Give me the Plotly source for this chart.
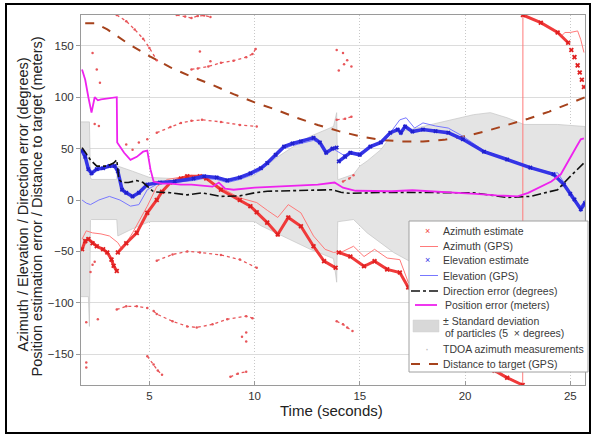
import plotly.graph_objects as go

# ---------------- data ----------------
# Distance to target (GPS), meters
dist_t = [1.95, 2.4, 3.0, 4.0, 5.0, 6.0, 7.0, 8.0, 9.0, 10.0, 11.0, 12.0, 13.0, 14.0, 15.0, 16.0, 17.0, 18.0, 19.0, 20.0, 21.0, 22.0, 23.0, 24.0, 25.0, 25.7]
dist_v = [172, 172, 166, 152, 140, 129, 120, 112, 103, 95, 88, 80, 73, 67, 62, 58.5, 57, 57, 58.5, 62, 67, 73, 79, 86, 94, 100]

# Position error (meters)
pos_t = [1.8, 1.95, 2.1, 2.25, 2.4, 2.55, 2.7, 3.0, 3.45, 3.47, 3.8, 4.1, 4.4, 4.7, 4.9, 5.05, 5.2, 5.6, 6.0, 6.5, 7.0, 7.5, 8.0, 8.3, 8.6, 9.0, 9.5, 10.0, 11.0, 12.0, 13.0, 13.8, 14.2, 14.8, 15.5, 16.5, 17.5, 18.5, 19.5, 20.5, 21.5, 22.5, 23.0, 23.6, 24.1, 24.55, 25.0, 25.3, 25.5, 25.65]
pos_v = [127, 117, 100, 85, 100, 97, 98, 99, 100, 56, 46, 39, 42, 47, 48, 30, 18, 16, 16, 15, 15, 14, 13, 17, 11, 10, 11, 12, 13, 14, 15, 17, 12, 9, 9, 8.5, 9.5, 8.5, 7.5, 6, 4.5, 3.5, 7, 13, 18, 25, 42, 52, 59, 60]

# Direction error (degrees)
dir_t = [1.8, 2.0, 2.2, 2.5, 3.0, 3.3, 3.45, 3.55, 3.7, 4.0, 4.4, 4.7, 5.2, 6.0, 6.8, 7.5, 8.0, 8.4, 9.3, 10.0, 10.6, 12.2, 13.7, 14.1, 14.5, 16.45, 18.0, 20.4, 22.0, 23.1, 24.4, 25.0, 25.65]
dir_v = [51, 45, 39, 33, 33, 36, 39, 20, 17, 17, 19, 17, 8, 7, 5, 7, 5, 3.5, 4, 7, 8.5, 9.5, 10, 7.5, 6.5, 7.5, 7.5, 7, 2.5, 3.5, 10, 23, 36]

# Elevation estimate (degrees)
elev_t = [1.8, 1.95, 2.1, 2.25, 2.5, 2.8, 3.1, 3.35, 3.5, 3.7, 3.9, 4.2, 4.5, 4.9, 5.5, 6.2, 7.1, 7.6, 8.2, 8.7, 9.3, 9.8, 10.3, 10.6, 11.0, 11.4, 11.8, 12.2, 12.8, 13.1, 13.4, 13.7, 13.9, None,
          14.0, 14.3, 14.55, 15.0, 15.5, 16.0, 16.45, 16.8, 16.95, 17.15, 17.5, 18.0, 18.6, 19.2, 19.9, 20.9, 22.0, 23.1, 24.2, 24.7, 25.0, 25.2, 25.5, 25.7]
elev_v = [48, 42, 30, 26, 30, 31, 33, 33, 28, 10, 7, 3.5, 7, 15, 17, 18, 21, 23, 22, 19, 22, 26, 31, 36, 44, 52, 55, 57, 60.5, 56, 46, 50, 51, None,
          37.5, 42, 46, 44, 52, 56, 65.5, 68.5, 65.5, 71.5, 66.6, 68.5, 67, 65.5, 59, 47, 39.4, 31.5, 25, 15, 6, 0.5, -9, -3]

# Elevation (GPS)
elev_gps_t = [1.8, 2.0, 2.2, 2.6, 3.1, 3.6, 4.1, 4.5, 4.9, 5.5, 6.2, 7.1, 7.6, 8.2, 8.7, 9.3, 9.8, 10.3, 10.6, 11.0, 11.4, 11.8, 12.2, 12.8, 13.1, 13.4, 13.8, 14.2, 14.6, 15.0, 15.8, 16.45, 16.9, 17.2, 17.6, 18.0, 18.6, 19.2, 19.9, 20.9, 22.0, 23.1, 24.2, 24.4, 24.7, 25.0, 25.3, 25.5, 25.7]
elev_gps_v = [0, -3, -4.5, 0, 3.5, 0, -6, -4.5, 10, 17, 17, 19, 21, 20, 17, 20, 24, 29, 34, 42, 50, 53, 55, 58, 55, 47, 49, 44, 45, 46, 54, 65.5, 78, 80, 70, 75, 72, 70, 62, 48, 40, 32, 26, 26.5, 17, 3.5, -4, -6, 0]

# Azimuth estimate (degrees, wrapped to +/-180); the final points are isolated samples
az_t = [1.8, 1.95, 2.1, 2.3, 2.5, 2.8, 3.0, 3.2, 3.3, 3.45, None,
        3.5, 3.9, 4.4, 4.9, 5.35, 5.6, 6.0, 6.5, 6.8, 7.4, 7.7, 8.4, 9.3, 9.8, 10.1, 10.6, 11.1, 11.6, 12.2, 12.8, 13.3, 13.85, None,
        14.0, 14.55, 15.2, 15.7, 16.3, 16.9, 17.3, 18.0, 19.0, 20.0, 21.0, 21.4, 22.0, 22.74, None,
        22.75, 23.6, 24.4, 24.9, None, 25.05, None, 25.2, None, 25.35, None, 25.45, None, 25.55, None, 25.65, None]
az_v = [-48, -40, -38, -42, -45, -48, -51, -58, -64, -69, None,
        -51, -42, -32, -12.5, 0, 8, 17, 21, 23, 23, 21, 10, 0, -6, -12, -22, -33.5, -17, -25.5, -45, -59.5, -66, None,
        -51, -55, -64.5, -59.5, -67.5, -70.5, -85, -99, -118, -138, -158, -166, -173, -180, None,
        180, 172.5, 163, 153, None, 146, None, 139, None, 131, None, 124, None, 117, None, 110, None]

# Azimuth (GPS)
az_gps_t = [1.8, 2.0, 2.3, 2.7, 3.1, 3.5, 3.7, 4.2, 4.9, 5.35, 5.85, 6.5, 7.0, 7.5, 8.4, 9.3, 10.1, 10.6, 11.1, 11.6, 12.2, 12.8, 13.35, 13.75, 14.2, 14.7, 15.2, 15.7, 16.3, 16.9, 17.3, 18.0, 19.0, 20.0, 21.0, 21.4, 22.0, 22.74, 22.75, 23.6, 24.4, 24.55, 24.75, 25.0, 25.35, 25.5, 25.65]
az_gps_v = [-38, -30, -32, -33, -35, -41.5, -48, -32, -6, 13, 20, 22, 24, 23, 12, 2, -2.5, -10, -17, -4.5, -12.5, -35, -48, -51, -50, -45, -55, -48, -56.5, -58, -80, -96, -116, -136, -156, -164, -172, -180, 180, 172.5, 163, 159, 163, 163, 164.5, 156, 143.5]

# +/- standard deviation of particles (5 x degrees)
std_t = [1.75, 2.1, 2.15, 2.2, 2.25, 3.45, 3.5, 4.2, 5.0, 6.0, 7.0, 8.0, 9.2, 10.0, 10.3, 11.1, 11.85, 12.65, 13.75, 13.9, 13.95, 14.0, 14.7, 15.0, 15.35, 16.0, 16.6, 17.4, 18.5, 19.5, 20.4, 21.2, 22.0, 22.8, 24.4, 25.7]
std_up = [76, 76, 76, 22, 20, 20, 33, 28, 22, 21, 21, 21, 20, 24, 29.7, 42, 52, 62, 71.5, 85, 20, 20, 25, 33, 38, 49, 65.5, 68.5, 74, 79, 83, 85, 80, 73.5, 73.5, 71.5]
std_lo = [-94, -94, -123, -20, -19, -19, -35, -28, -21, -21, -21, -21, -21, -21, -25, -33, -40, -48, -57, -80, -21, -21, -19, -25, -32, -42, -51, -60, -70, -78, -83, -85, -80, -73, -73, -71]

# TDOA azimuth measurements (tracks, separated by None; isolated points too)
tdoa_t = [3.45, 3.9, 4.3, 4.7, 5.0, 5.35, None,
          6.3, 6.7, 7.0, 7.3, 7.6, 7.9, None,
          7.0, 7.3, 7.8, 8.4, 9.0, 9.6, 9.9, 10.05, None,
          5.35, 6.0, 6.5, 7.0, 7.5, 8.4, 9.3, 10.1, None,
          5.35, 6.1, 6.8, 7.4, 8.4, 9.3, 10.1, None,
          3.45, 3.9, 4.4, 4.9, None,
          5.2, 5.35, 6.1, 6.8, 7.25, 8.0, 8.7, 9.6, 9.9, None,
          4.9, 5.2, 5.4, 5.6, None,
          8.85, 9.2, 9.6, None,
          13.9, 14.3, 14.6, None,
          14.2, 14.5, 14.7, None,
          13.9, 14.2, 14.4, 14.65, None,
          13.9, None, 14.2, None, 14.4, None, 14.25, None, 14.6, None, 14.0, None,
          3.9, None, 4.2, None, 4.5, None, 4.9, None,
          9.6, None, 9.6, None, 9.4, None,
          2.0, None, 2.55, None, 2.0, None, 2.0, None, 2.3, None, 2.4, None, 2.2, None,
          2.5, None, 2.3, None, 2.65, None, 2.4, None, 2.6, None, 7.4, None, 7.9, None]
tdoa_v = [180, 174, 166, 157, 148, 136, None,
          180, 178.5, 177, 179, 179.5, 178, None,
          127, 128, 130, 133.5, 135.5, 139, 142, 147, None,
          65.5, 71, 75, 77, 78, 76, 73, 71.5, None,
          -59, -53, -50, -51, -53.5, -58, -66, None,
          -106.5, -103.5, -103.5, -105, None,
          -108, -111, -118, -123, -124, -121, -116, -113, -115, None,
          -152, -160, -166, -170, None,
          -172, -169, -167, None,
          78, 79, 81, None,
          18, 21, 24, None,
          -118, -121, -124, -127.5, None,
          146, None, 143, None, 136, None, 132, None, 130, None, 126, None,
          54, None, 49, None, 56, None, 59, None,
          -129, None, -137.6, None, -133, None,
          -119, None, -116, None, -158, None, -163, None, -63, None, -60, None, -70, None,
          127, None, 143, None, 114, None, 74, None, 72, None, 144.5, None, 135, None]

x_ticks = [5, 10, 15, 20, 25]
y_ticks = [-150, -100, -50, 0, 50, 100, 150]

legend_labels = ["Azimuth estimate", "Azimuth (GPS)", "Elevation estimate", "Elevation (GPS)",
                 "Direction error (degrees)", "Position error (meters)",
                 "± Standard deviation", "of particles (5  × degrees)",
                 "TDOA azimuth measurements", "Distance to target (GPS)"]

# colours
C_AZ = "#f03a3a"
C_AZ_GPS = "#ff7a7a"
C_EL = "#3434e6"
C_EL_GPS = "#7878ff"
C_DIR = "#111111"
C_POS = "#ee22ee"
C_DIST = "#a6421c"
C_TDOA = "#e8565a"

# ---------------- figure ----------------
fig = go.Figure()

fig.add_trace(go.Scatter(
    x=std_t + std_t[::-1], y=std_up + std_lo[::-1],
    mode="lines", fill="toself", fillcolor="#e4e4e4",
    line=dict(color="#c4c4c4", width=0.7), hoverinfo="skip"))

fig.add_trace(go.Scatter(
    x=tdoa_t, y=tdoa_v, mode="lines+markers",
    line=dict(color=C_TDOA, width=1.3, dash="dot"),
    marker=dict(color=C_TDOA, size=2.5), hoverinfo="skip"))

fig.add_trace(go.Scatter(x=dist_t, y=dist_v, mode="lines",
    line=dict(color=C_DIST, width=2, dash="dash")))

fig.add_trace(go.Scatter(x=az_gps_t, y=az_gps_v, mode="lines",
    line=dict(color=C_AZ_GPS, width=1)))

fig.add_trace(go.Scatter(x=elev_gps_t, y=elev_gps_v, mode="lines",
    line=dict(color=C_EL_GPS, width=1)))

fig.add_trace(go.Scatter(x=az_t, y=az_v, mode="lines+markers",
    line=dict(color=C_AZ, width=3),
    marker=dict(color="#e02020", size=4.5, symbol="x")))

fig.add_trace(go.Scatter(x=elev_t, y=elev_v, mode="lines+markers",
    line=dict(color=C_EL, width=3.5),
    marker=dict(color="#2020cc", size=4, symbol="x")))

fig.add_trace(go.Scatter(x=dir_t, y=dir_v, mode="lines",
    line=dict(color=C_DIR, width=1.6, dash="dashdot")))

fig.add_trace(go.Scatter(x=pos_t, y=pos_v, mode="lines",
    line=dict(color=C_POS, width=1.8)))

L, R, T, B = 81, 10, 15, 52
W, H = 595, 437
pw, ph = W - L - R, H - T - B


def px(xp):
    return (xp - L) / pw


def py(yp):
    return (H - B - yp) / ph


# ---- legend box (drawn as shapes + text so its compact spacing matches) ----
row_y = [231, 246.5, 260, 275.5, 291, 305, 321, 333, 349, 364]
text_x = [441, 441, 441, 441, 441, 443, 441, 443, 441, 441]

shapes = [
    dict(type="rect", xref="paper", yref="paper", layer="above",
         x0=px(6), x1=px(590), y0=py(433), y1=py(4),
         line=dict(color="black", width=2)),
    dict(type="rect", xref="paper", yref="paper", layer="above",
         x0=px(409), x1=px(588), y0=py(372), y1=py(221),
         fillcolor="white", line=dict(color="#a0a0a0", width=1)),
]


def seg(x0, x1, yy, color, width, dash="solid"):
    return dict(type="line", xref="paper", yref="paper", layer="above",
                x0=px(x0), x1=px(x1), y0=py(yy), y1=py(yy),
                line=dict(color=color, width=width, dash=dash))


shapes += [
    seg(420, 438, row_y[1], C_AZ_GPS, 1),
    seg(420, 438, row_y[3], C_EL_GPS, 1),
    seg(411, 440, row_y[4], C_DIR, 1.6, "dashdot"),
    seg(415, 437, row_y[5], C_POS, 1.8),
    dict(type="rect", xref="paper", yref="paper", layer="above",
         x0=px(413), x1=px(439), y0=py(332), y1=py(320),
         fillcolor="#d8d8d8", line=dict(color="#d0d0d0", width=0.5)),
    seg(411, 440, row_y[9], C_DIST, 2, "dash"),
]

annotations = [
    dict(text="Azimuth / Elevation / Direction error (degrees)",
         x=px(22.5), y=py(205), xref="paper", yref="paper", textangle=-90,
         showarrow=False, xanchor="center", yanchor="middle",
         font=dict(size=14.5, color="#222222")),
    dict(text="Position estimation error / Distance to target (meters)",
         x=px(37), y=py(206.5), xref="paper", yref="paper", textangle=-90,
         showarrow=False, xanchor="center", yanchor="middle",
         font=dict(size=14.5, color="#222222")),
    dict(text="Time (seconds)", x=px(331), y=py(410), xref="paper", yref="paper",
         showarrow=False, xanchor="center", yanchor="middle",
         font=dict(size=15, color="#222222")),
]

for lab, yy, xx in zip(legend_labels, row_y, text_x):
    annotations.append(dict(text=lab, x=px(xx), y=py(yy), xref="paper", yref="paper",
                            showarrow=False, xanchor="left", yanchor="middle",
                            font=dict(size=10.5, color="#3a3a3a")))

for sym, yy, col, sz in [("×", row_y[0], C_AZ, 9), ("×", row_y[2], C_EL, 9), ("·", row_y[8], "#b8b8b8", 12)]:
    annotations.append(dict(text=sym, x=px(427), y=py(yy), xref="paper", yref="paper",
                            showarrow=False, xanchor="center", yanchor="middle",
                            font=dict(size=sz, color=col)))

fig.update_layout(
    width=W, height=H,
    margin=dict(l=L, r=R, t=T, b=B),
    paper_bgcolor="white", plot_bgcolor="white",
    font=dict(family="Arial, Liberation Sans, sans-serif", color="#333333"),
    showlegend=False,
    hovermode=False,
    xaxis=dict(range=[1.75, 25.7], tickvals=x_ticks, showgrid=True,
               gridcolor="#c8c8c8", griddash="1px,2px", gridwidth=1,
               zeroline=False, showline=True, linecolor="#9a9a9a", mirror=True,
               ticks="inside", ticklen=4, tickcolor="#9a9a9a",
               tickfont=dict(size=11.5, color="#333333")),
    yaxis=dict(range=[-180, 180], tickvals=y_ticks, showgrid=True,
               gridcolor="#dcdcdc", gridwidth=1,
               zeroline=False, showline=True, linecolor="#9a9a9a", mirror=True,
               ticks="outside", ticklen=4, tickcolor="#9a9a9a",
               tickfont=dict(size=11.5, color="#333333")),
    annotations=annotations,
    shapes=shapes,
)

fig.write_html("out.html", config={"displayModeBar": False},
               post_script="document.body.style.margin='0';")
